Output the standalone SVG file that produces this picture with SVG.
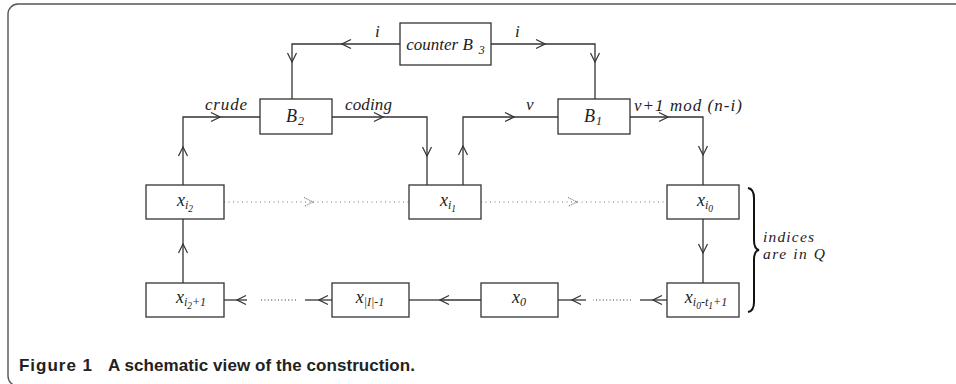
<svg xmlns="http://www.w3.org/2000/svg" width="956" height="384" viewBox="0 0 956 384">
<style>
.box{fill:#fff;stroke:#333;stroke-width:1.3}
.ln{fill:none;stroke:#333;stroke-width:1.3}
.dt{fill:none;stroke:#777;stroke-width:1.1;stroke-dasharray:1 3.5}
.db{fill:none;stroke:#333;stroke-width:1;stroke-dasharray:1 2.4}
.m{font-family:"Liberation Serif",serif;font-style:italic;font-size:17px;fill:#222}
.bx{font-size:18px}
.c{text-anchor:middle}
.s{font-size:12px}
.ss{font-size:9.5px}
.br{font-size:15.5px}
.cap{font-family:"Liberation Sans",Arial,sans-serif;font-weight:bold;font-size:17px;fill:#222}
</style>
<defs>
<marker id="a" viewBox="-11 -6 12 12" refX="0" refY="0" markerWidth="12" markerHeight="12" markerUnits="userSpaceOnUse" orient="auto">
<path d="M-9,-4.5 L0,0 L-9,4.5" fill="none" stroke="#333" stroke-width="1.2"/>
</marker>
<marker id="d" viewBox="-11 -6 12 12" refX="0" refY="0" markerWidth="12" markerHeight="12" markerUnits="userSpaceOnUse" orient="auto">
<path d="M-9,-4.5 L0,0 L-9,4.5" fill="none" stroke="#777" stroke-width="1.1" stroke-dasharray="1 1"/>
</marker>
</defs>
<rect x="8" y="4" width="1000" height="382" rx="10" fill="none" stroke="#555" stroke-width="1.4"/>

<g id="connectors">
<path class="ln" d="M400,44 H342" marker-end="url(#a)"/>
<path class="ln" d="M342,44 H292 V62" marker-end="url(#a)"/>
<path class="ln" d="M292,62 V99"/>
<path class="ln" d="M491,44 H545" marker-end="url(#a)"/>
<path class="ln" d="M545,44 H595 V62" marker-end="url(#a)"/>
<path class="ln" d="M595,62 V99"/>
<path class="ln" d="M183,185 V147" marker-end="url(#a)"/>
<path class="ln" d="M183,147 V117 H220" marker-end="url(#a)"/>
<path class="ln" d="M220,117 H260"/>
<path class="ln" d="M332,117 H383" marker-end="url(#a)"/>
<path class="ln" d="M383,117 H427 V156" marker-end="url(#a)"/>
<path class="ln" d="M427,156 V185"/>
<path class="ln" d="M463,185 V146" marker-end="url(#a)"/>
<path class="ln" d="M463,146 V117 H514" marker-end="url(#a)"/>
<path class="ln" d="M514,117 H558"/>
<path class="ln" d="M630,117 H668" marker-end="url(#a)"/>
<path class="ln" d="M668,117 H703 V155" marker-end="url(#a)"/>
<path class="ln" d="M703,155 V185"/>
<path class="dt" d="M224,202 H313" marker-end="url(#d)"/>
<path class="dt" d="M313,202 H409"/>
<path class="dt" d="M481,202 H577" marker-end="url(#d)"/>
<path class="dt" d="M577,202 H667"/>
<path class="ln" d="M183,283 V244" marker-end="url(#a)"/>
<path class="ln" d="M183,244 V219"/>
<path class="ln" d="M703,219 V253" marker-end="url(#a)"/>
<path class="ln" d="M703,253 V283"/>
<path class="ln" d="M667,300 H653" marker-end="url(#a)"/>
<path class="ln" d="M653,300 H640"/>
<path class="db" d="M631,300 H593"/>
<path class="ln" d="M586,300 H572" marker-end="url(#a)"/>
<path class="ln" d="M572,300 H558"/>
<path class="ln" d="M481,300 H440" marker-end="url(#a)"/>
<path class="ln" d="M440,300 H409"/>
<path class="ln" d="M332,300 H319" marker-end="url(#a)"/>
<path class="ln" d="M319,300 H305"/>
<path class="db" d="M296,300 H259"/>
<path class="ln" d="M247,300 H237" marker-end="url(#a)"/>
<path class="ln" d="M237,300 H224"/>
<text class="m" x="375" y="37">i</text>
<text class="m" x="515" y="37">i</text>
<text class="m" x="205" y="110" textLength="42" lengthAdjust="spacing">crude</text>
<text class="m" x="345" y="110" textLength="47" lengthAdjust="spacing">coding</text>
<text class="m" x="526" y="110">v</text>
<text class="m" x="634" y="111" textLength="108" lengthAdjust="spacing">v+1 mod (n-i)</text>
</g>

<g id="counterB3">
<rect class="box" x="400" y="23" width="91" height="42"/>
<text class="m c" x="445.5" y="50">counter B<tspan class="s" dx="6" dy="4">3</tspan></text>
</g>
<g id="B2">
<rect class="box" x="260" y="99" width="72" height="35"/>
<text class="m bx c" x="295" y="122">B<tspan class="s" dx="1" dy="3">2</tspan></text>
</g>
<g id="B1">
<rect class="box" x="558" y="99" width="72" height="35"/>
<text class="m bx c" x="593" y="122">B<tspan class="s" dx="1" dy="3">1</tspan></text>
</g>
<g id="x_i2">
<rect class="box" x="146" y="185" width="78" height="34"/>
<text class="m bx c" x="185" y="206">x<tspan class="s" dy="3">i</tspan><tspan class="ss" dy="2.5">2</tspan></text>
</g>
<g id="x_i1">
<rect class="box" x="409" y="185" width="72" height="34"/>
<text class="m bx c" x="448" y="206">x<tspan class="s" dy="3">i</tspan><tspan class="ss" dy="2.5">1</tspan></text>
</g>
<g id="x_i0">
<rect class="box" x="667" y="185" width="72" height="34"/>
<text class="m bx c" x="705" y="206">x<tspan class="s" dy="3">i</tspan><tspan class="ss" dy="2.5">0</tspan></text>
</g>
<g id="x_i2p1">
<rect class="box" x="146" y="283" width="78" height="34"/>
<text class="m bx c" x="191" y="303">x<tspan class="s" dy="3">i</tspan><tspan class="ss" dy="2.5">2</tspan><tspan class="s" dy="-2.5">+1</tspan></text>
</g>
<g id="x_Im1">
<rect class="box" x="332" y="283" width="77" height="34"/>
<text class="m bx c" x="370" y="303">x<tspan class="s" dy="3">|I|-1</tspan></text>
</g>
<g id="x_0">
<rect class="box" x="481" y="283" width="77" height="34"/>
<text class="m bx c" x="519" y="303">x<tspan class="s" dy="3">0</tspan></text>
</g>
<g id="x_i0t1">
<rect class="box" x="667" y="283" width="72" height="34"/>
<text class="m bx c" x="706" y="303">x<tspan class="s" dy="3">i</tspan><tspan class="ss" dy="2.5">0</tspan><tspan class="s" dy="-2.5">-t</tspan><tspan class="ss" dy="2.5">1</tspan><tspan class="s" dy="-2.5">+1</tspan></text>
</g>

<g id="brace">
<path d="M748,188 Q754,189 754,198 L754,240 Q754,249 759,250 Q754,251 754,260 L754,302 Q754,311 748,312" fill="none" stroke="#111" stroke-width="2"/>
<text class="m br" x="763" y="242" textLength="51" lengthAdjust="spacing">indices</text>
<text class="m br" x="763" y="259" textLength="62" lengthAdjust="spacing">are in Q</text>
</g>

<text class="cap" x="19" y="371" textLength="73" lengthAdjust="spacing">Figure 1</text>
<text class="cap" x="108" y="371" textLength="307" lengthAdjust="spacing">A schematic view of the construction.</text>
</svg>
